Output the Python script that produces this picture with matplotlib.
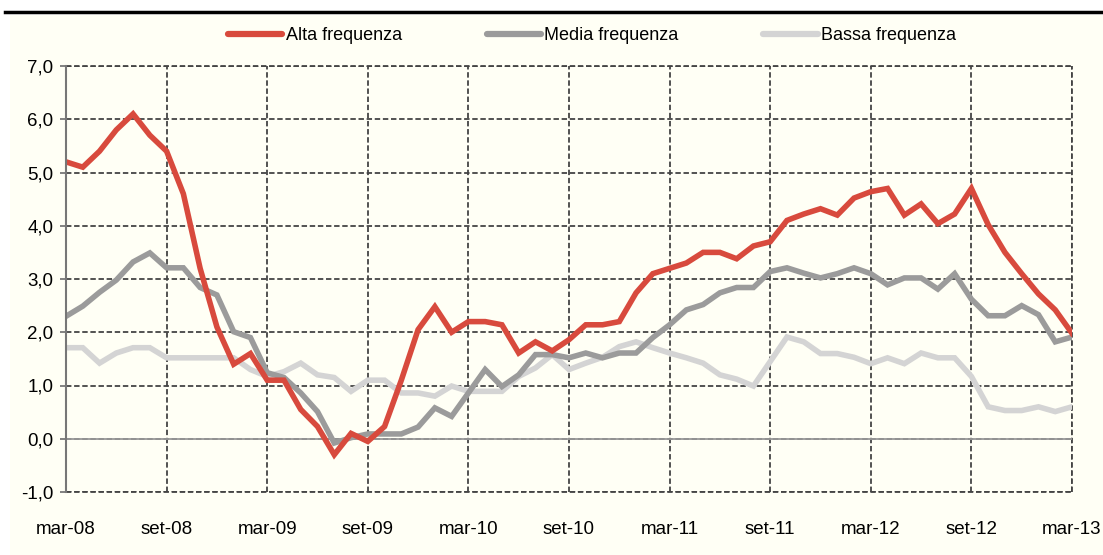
import matplotlib.pyplot as plt
import matplotlib.patches as mpatches
from matplotlib.lines import Line2D

months = ['mar-08', 'set-08', 'mar-09', 'set-09', 'mar-10', 'set-10',
          'mar-11', 'set-11', 'mar-12', 'set-12', 'mar-13']

alta = [5.2, 5.1, 5.4, 5.8, 6.1, 5.7, 5.4, 4.6, 3.2, 2.1,
        1.4, 1.6, 1.1, 1.1, 0.55, 0.23, -0.3, 0.1, -0.05, 0.23,
        1.1, 2.05, 2.48, 2.0, 2.2, 2.2, 2.14, 1.61, 1.82, 1.65,
        1.86, 2.14, 2.14, 2.2, 2.74, 3.1, 3.2, 3.3, 3.5, 3.5,
        3.38, 3.62, 3.7, 4.1, 4.22, 4.32, 4.2, 4.52, 4.64, 4.7,
        4.2, 4.41, 4.04, 4.22, 4.7, 4.02, 3.5, 3.1, 2.72, 2.42,
        1.98]

media = [2.3, 2.49, 2.75, 2.98, 3.32, 3.49, 3.21, 3.21, 2.84, 2.7,
         2.01, 1.9, 1.24, 1.15, 0.86, 0.51, -0.08, 0.02, 0.09, 0.09,
         0.09, 0.22, 0.58, 0.42, 0.86, 1.3, 0.98, 1.2, 1.58, 1.58,
         1.52, 1.61, 1.52, 1.61, 1.61, 1.9, 2.14, 2.42, 2.52, 2.74,
         2.84, 2.84, 3.14, 3.21, 3.11, 3.02, 3.1, 3.21, 3.1, 2.89,
         3.02, 3.02, 2.81, 3.1, 2.62, 2.31, 2.31, 2.5, 2.33, 1.82,
         1.91]

bassa = [1.71, 1.71, 1.42, 1.61, 1.71, 1.71, 1.52, 1.52, 1.52, 1.52,
         1.52, 1.3, 1.17, 1.26, 1.42, 1.2, 1.15, 0.89, 1.1, 1.1,
         0.86, 0.86, 0.8, 0.99, 0.89, 0.89, 0.89, 1.17, 1.33, 1.58,
         1.3, 1.42, 1.53, 1.73, 1.82, 1.71, 1.61, 1.52, 1.42, 1.2,
         1.12, 0.99, 1.45, 1.91, 1.82, 1.6, 1.6, 1.53, 1.41, 1.52,
         1.41, 1.61, 1.52, 1.52, 1.17, 0.6, 0.53, 0.53, 0.6, 0.51,
         0.6]

series_names = ['Alta frequenza', 'Media frequenza', 'Bassa frequenza']
colors = ['#D84A3D', '#9B9B9B', '#D4D4D4']


def main():
    plt.rcParams['font.family'] = ['Liberation Sans', 'DejaVu Sans']

    fig = plt.figure(figsize=(11.03, 5.55), dpi=100, facecolor='white')

    # cream panel and black rule at the top
    fig.patches.append(mpatches.Rectangle((10 / 1103, 0), 1, 1 - 15 / 555,
                                          transform=fig.transFigure,
                                          facecolor='#FFFFF5', edgecolor='none', zorder=-5))
    fig.add_artist(Line2D([5 / 1103, 1], [1 - 12 / 555, 1 - 12 / 555],
                          transform=fig.transFigure, color='black', lw=2.5))

    ax = fig.add_axes([66 / 1103, 1 - 492 / 555, (1072 - 66) / 1103, (492 - 66) / 555])
    ax.set_facecolor('#FFFFF5')

    X = list(range(len(alta)))
    # draw in reverse order so red is on top
    ax.plot(X, bassa, color=colors[2], lw=4.0, solid_joinstyle='miter', zorder=3)
    ax.plot(X, media, color=colors[1], lw=4.0, solid_joinstyle='miter', zorder=4)
    ax.plot(X, alta, color=colors[0], lw=4.0, solid_joinstyle='miter', zorder=5)

    ax.set_xlim(0, 60)
    ax.set_ylim(-1, 7)
    ax.set_xticks(range(0, 61, 6))
    ax.set_xticklabels(months)
    ax.set_yticks(range(-1, 8))
    ax.set_yticklabels(['%d,0' % v for v in range(-1, 8)])

    for s in ['top', 'right', 'bottom']:
        ax.spines[s].set_visible(False)
    ax.spines['left'].set_color('#777777')
    ax.spines['left'].set_linewidth(1.5)
    ax.spines['left'].set_zorder(6)

    dash = (0, (3, 1.5))
    ax.grid(True, color='#444444', linestyle=dash, lw=1.3, zorder=1)
    ax.set_axisbelow(True)
    ax.axhline(0, color='#999999', lw=1.3, zorder=2)
    # dashed lines at the outer frame (bottom, top, right)
    ax.axhline(-1, color='#444444', linestyle=dash, lw=1.3, zorder=1, clip_on=False)
    ax.axhline(7, color='#444444', linestyle=dash, lw=1.3, zorder=1, clip_on=False)
    ax.axvline(60, color='#444444', linestyle=dash, lw=1.3, zorder=1, clip_on=False)

    ax.tick_params(axis='x', length=0, pad=21, labelsize=13.5, labelcolor='black')
    ax.tick_params(axis='y', length=4, width=1.3, color='#777777', pad=5,
                   labelsize=13.5, labelcolor='black')

    handles = [Line2D([], [], color=c, lw=4.5, solid_capstyle='round') for c in colors]
    fig.legend(handles, series_names, loc='center', bbox_to_anchor=(592 / 1103, 1 - 36 / 555),
               ncol=3, frameon=False, handlelength=3.0, handletextpad=0.2,
               columnspacing=4.7, prop={'size': 13})

    fig.savefig('out.png', dpi=100, facecolor='white')


if __name__ == '__main__':
    main()
